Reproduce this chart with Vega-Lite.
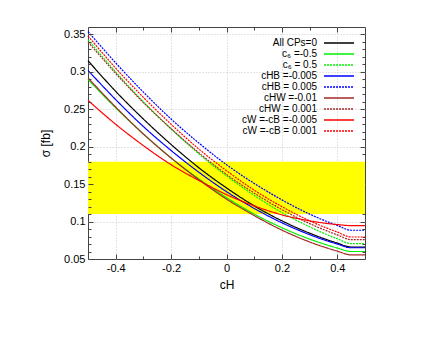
{
  "$schema": "https://vega.github.io/schema/vega-lite/v6.json",
  "autosize": {"type": "none"},
  "padding": {"left": 88, "top": 27, "right": 71, "bottom": 78},
  "width": 277,
  "height": 232,
  "background": "white",
  "config": {
    "view": {"stroke": "#444444", "strokeWidth": 1},
    "font": "Liberation Sans",
    "axis": {"labelFont": "Liberation Sans", "titleFont": "Liberation Sans", "labelColor": "#000", "titleColor": "#000", "titleFontWeight": "normal", "labelFontSize": 11, "titleFontSize": 12, "domain": false, "tickColor": "#444444"},
    "legend": {"labelFont": "Liberation Sans", "labelColor": "#000"}
  },
  "data": {"values": [
    {"s":"All CPs=0","x":-0.5,"y":0.315},{"s":"All CPs=0","x":-0.4,"y":0.274},{"s":"All CPs=0","x":-0.3,"y":0.237},{"s":"All CPs=0","x":-0.2,"y":0.203},{"s":"All CPs=0","x":-0.1,"y":0.172},{"s":"All CPs=0","x":0,"y":0.145},{"s":"All CPs=0","x":0.1,"y":0.121},{"s":"All CPs=0","x":0.2,"y":0.101},{"s":"All CPs=0","x":0.3,"y":0.0845},{"s":"All CPs=0","x":0.4,"y":0.0713},{"s":"All CPs=0","x":0.45,"y":0.066},{"s":"All CPs=0","x":0.5,"y":0.066},
    {"s":"c₆ =-0.5","x":-0.5,"y":0.29},{"s":"c₆ =-0.5","x":-0.4,"y":0.252},{"s":"c₆ =-0.5","x":-0.3,"y":0.217},{"s":"c₆ =-0.5","x":-0.2,"y":0.185},{"s":"c₆ =-0.5","x":-0.1,"y":0.157},{"s":"c₆ =-0.5","x":0,"y":0.132},{"s":"c₆ =-0.5","x":0.1,"y":0.11},{"s":"c₆ =-0.5","x":0.2,"y":0.0918},{"s":"c₆ =-0.5","x":0.3,"y":0.0766},{"s":"c₆ =-0.5","x":0.4,"y":0.0647},{"s":"c₆ =-0.5","x":0.45,"y":0.06},{"s":"c₆ =-0.5","x":0.5,"y":0.06},
    {"s":"c₆ = 0.5","x":-0.5,"y":0.343},{"s":"c₆ = 0.5","x":-0.4,"y":0.3},{"s":"c₆ = 0.5","x":-0.3,"y":0.26},{"s":"c₆ = 0.5","x":-0.2,"y":0.224},{"s":"c₆ = 0.5","x":-0.1,"y":0.1905},{"s":"c₆ = 0.5","x":0,"y":0.161},{"s":"c₆ = 0.5","x":0.1,"y":0.135},{"s":"c₆ = 0.5","x":0.2,"y":0.112},{"s":"c₆ = 0.5","x":0.3,"y":0.093},{"s":"c₆ = 0.5","x":0.4,"y":0.077},{"s":"c₆ = 0.5","x":0.45,"y":0.0705},{"s":"c₆ = 0.5","x":0.5,"y":0.0705},
    {"s":"cHB =-0.005","x":-0.5,"y":0.302},{"s":"cHB =-0.005","x":-0.4,"y":0.263},{"s":"cHB =-0.005","x":-0.3,"y":0.227},{"s":"cHB =-0.005","x":-0.2,"y":0.195},{"s":"cHB =-0.005","x":-0.1,"y":0.166},{"s":"cHB =-0.005","x":0,"y":0.14},{"s":"cHB =-0.005","x":0.1,"y":0.1176},{"s":"cHB =-0.005","x":0.2,"y":0.0984},{"s":"cHB =-0.005","x":0.3,"y":0.0825},{"s":"cHB =-0.005","x":0.4,"y":0.07},{"s":"cHB =-0.005","x":0.45,"y":0.065},{"s":"cHB =-0.005","x":0.5,"y":0.065},
    {"s":"cHB = 0.005","x":-0.5,"y":0.354},{"s":"cHB = 0.005","x":-0.4,"y":0.312},{"s":"cHB = 0.005","x":-0.3,"y":0.273},{"s":"cHB = 0.005","x":-0.2,"y":0.237},{"s":"cHB = 0.005","x":-0.1,"y":0.205},{"s":"cHB = 0.005","x":0,"y":0.176},{"s":"cHB = 0.005","x":0.1,"y":0.151},{"s":"cHB = 0.005","x":0.2,"y":0.129},{"s":"cHB = 0.005","x":0.3,"y":0.11},{"s":"cHB = 0.005","x":0.4,"y":0.0948},{"s":"cHB = 0.005","x":0.45,"y":0.0884},{"s":"cHB = 0.005","x":0.5,"y":0.0884},
    {"s":"cHW =-0.01","x":-0.5,"y":0.292},{"s":"cHW =-0.01","x":-0.4,"y":0.253},{"s":"cHW =-0.01","x":-0.3,"y":0.217},{"s":"cHW =-0.01","x":-0.2,"y":0.185},{"s":"cHW =-0.01","x":-0.1,"y":0.156},{"s":"cHW =-0.01","x":0,"y":0.13},{"s":"cHW =-0.01","x":0.1,"y":0.108},{"s":"cHW =-0.01","x":0.2,"y":0.0886},{"s":"cHW =-0.01","x":0.3,"y":0.0728},{"s":"cHW =-0.01","x":0.4,"y":0.0605},{"s":"cHW =-0.01","x":0.45,"y":0.0555},{"s":"cHW =-0.01","x":0.5,"y":0.0555},
    {"s":"cHW = 0.001","x":-0.5,"y":0.34},{"s":"cHW = 0.001","x":-0.4,"y":0.298},{"s":"cHW = 0.001","x":-0.3,"y":0.259},{"s":"cHW = 0.001","x":-0.2,"y":0.224},{"s":"cHW = 0.001","x":-0.1,"y":0.192},{"s":"cHW = 0.001","x":0,"y":0.163},{"s":"cHW = 0.001","x":0.1,"y":0.138},{"s":"cHW = 0.001","x":0.2,"y":0.116},{"s":"cHW = 0.001","x":0.3,"y":0.0973},{"s":"cHW = 0.001","x":0.4,"y":0.0822},{"s":"cHW = 0.001","x":0.45,"y":0.0759},{"s":"cHW = 0.001","x":0.5,"y":0.0759},
    {"s":"cW =-cB =-0.005","x":-0.5,"y":0.262},{"s":"cW =-cB =-0.005","x":-0.4,"y":0.23},{"s":"cW =-cB =-0.005","x":-0.3,"y":0.2015},{"s":"cW =-cB =-0.005","x":-0.2,"y":0.176},{"s":"cW =-cB =-0.005","x":-0.1,"y":0.155},{"s":"cW =-cB =-0.005","x":0,"y":0.136},{"s":"cW =-cB =-0.005","x":0.1,"y":0.121},{"s":"cW =-cB =-0.005","x":0.2,"y":0.109},{"s":"cW =-cB =-0.005","x":0.3,"y":0.101},{"s":"cW =-cB =-0.005","x":0.4,"y":0.096},{"s":"cW =-cB =-0.005","x":0.45,"y":0.0946},{"s":"cW =-cB =-0.005","x":0.5,"y":0.0946},
    {"s":"cW =-cB = 0.001","x":-0.5,"y":0.348},{"s":"cW =-cB = 0.001","x":-0.4,"y":0.305},{"s":"cW =-cB = 0.001","x":-0.3,"y":0.266},{"s":"cW =-cB = 0.001","x":-0.2,"y":0.23},{"s":"cW =-cB = 0.001","x":-0.1,"y":0.197},{"s":"cW =-cB = 0.001","x":0,"y":0.168},{"s":"cW =-cB = 0.001","x":0.1,"y":0.142},{"s":"cW =-cB = 0.001","x":0.2,"y":0.12},{"s":"cW =-cB = 0.001","x":0.3,"y":0.101},{"s":"cW =-cB = 0.001","x":0.4,"y":0.086},{"s":"cW =-cB = 0.001","x":0.45,"y":0.0794},{"s":"cW =-cB = 0.001","x":0.5,"y":0.0794}
  ]},
  "layer": [
    {
      "data": {"values": [{"lo": 0.11, "hi": 0.18}]},
      "mark": {"type": "rect", "color": "#ffff00"},
      "encoding": {
        "y": {"field": "lo", "type": "quantitative", "scale": {"domain": [0.05, 0.36], "nice": false, "zero": false}, "axis": null},
        "y2": {"field": "hi"}
      }
    },
    {
      "mark": {"type": "point", "opacity": 0},
      "encoding": {
        "x": {"field": "x", "type": "quantitative", "scale": {"domain": [-0.5, 0.5], "nice": false, "zero": false},
          "axis": {"orient": "top", "values": [-0.4,-0.3,-0.2,-0.1,0,0.1,0.2,0.3,0.4], "labels": false, "title": null, "zindex": 0,
            "grid": true, "gridColor": "#c8c8c8", "gridDash": [1, 2],
            "gridOpacity": {"condition": {"test": "abs(round(datum.value*10))%2==0", "value": 1}, "value": 0},
            "tickSize": {"condition": {"test": "abs(round(datum.value*10))%2==0", "value": -5}, "value": -3}}},
        "y": {"field": "y", "type": "quantitative",
          "axis": {"orient": "right", "values": [0.06,0.07,0.08,0.09,0.1,0.11,0.12,0.13,0.14,0.15,0.16,0.17,0.18,0.19,0.2,0.21,0.22,0.23,0.24,0.25,0.26,0.27,0.28,0.29,0.3,0.31,0.32,0.33,0.34,0.35], "labels": false, "title": null, "zindex": 0,
            "grid": true, "gridColor": "#c8c8c8", "gridDash": [1, 2],
            "gridOpacity": {"condition": {"test": "round(datum.value*100)%5==0", "value": 1}, "value": 0},
            "tickSize": {"condition": {"test": "round(datum.value*100)%5==0", "value": -5}, "value": -3}}}
      }
    },
    {
      "mark": {"type": "line", "strokeWidth": 1.2, "interpolate": "monotone"},
      "encoding": {
        "x": {"field": "x", "type": "quantitative",
          "axis": {"orient": "bottom", "values": [-0.4,-0.3,-0.2,-0.1,0,0.1,0.2,0.3,0.4], "title": "cH", "zindex": 1, "grid": false,
            "labelExpr": "abs(round(datum.value*10))%2==0 ? ((datum.value < -0.001 ? '-' : '') + format(abs(datum.value), '~g')) : ''",
            "labelPadding": 8, "titlePadding": 6,
            "tickSize": {"condition": {"test": "abs(round(datum.value*10))%2==0", "value": -5}, "value": -3}}},
        "y": {"field": "y", "type": "quantitative",
          "axis": {"orient": "left", "values": [0.05,0.06,0.07,0.08,0.09,0.1,0.11,0.12,0.13,0.14,0.15,0.16,0.17,0.18,0.19,0.2,0.21,0.22,0.23,0.24,0.25,0.26,0.27,0.28,0.29,0.3,0.31,0.32,0.33,0.34,0.35], "title": "σ [fb]", "zindex": 1, "grid": false,
            "labelExpr": "round(datum.value*100)%5==0 ? format(datum.value, '~g') : ''",
            "labelPadding": 8, "titlePadding": 11,
            "tickSize": {"condition": {"test": "round(datum.value*100)%5==0", "value": -5}, "value": -3}}},
        "color": {"field": "s", "type": "nominal",
          "scale": {"domain": ["All CPs=0","c₆ =-0.5","c₆ = 0.5","cHB =-0.005","cHB = 0.005","cHW =-0.01","cHW = 0.001","cW =-cB =-0.005","cW =-cB = 0.001"],
            "range": ["#000000","#00f000","#00f000","#0000ff","#0000ff","#a52a2a","#a52a2a","#ff0000","#ff0000"]},
          "legend": {"orient": "none", "legendX": 245, "legendY": 10, "title": null, "labelAlign": "right", "labelOffset": -28,
            "symbolType": "M-3,0H3", "symbolSize": 100, "symbolStrokeWidth": 1.5, "labelFontSize": 10, "rowPadding": 0, "padding": 0}},
        "strokeDash": {"field": "s", "type": "nominal",
          "scale": {"domain": ["All CPs=0","c₆ =-0.5","c₆ = 0.5","cHB =-0.005","cHB = 0.005","cHW =-0.01","cHW = 0.001","cW =-cB =-0.005","cW =-cB = 0.001"],
            "range": [[1,0],[1,0],[2,1],[1,0],[2,1],[1,0],[2,1],[1,0],[2,1]]}}
      }
    }
  ],
  "resolve": {"axis": {"x": "independent", "y": "independent"}}
}
